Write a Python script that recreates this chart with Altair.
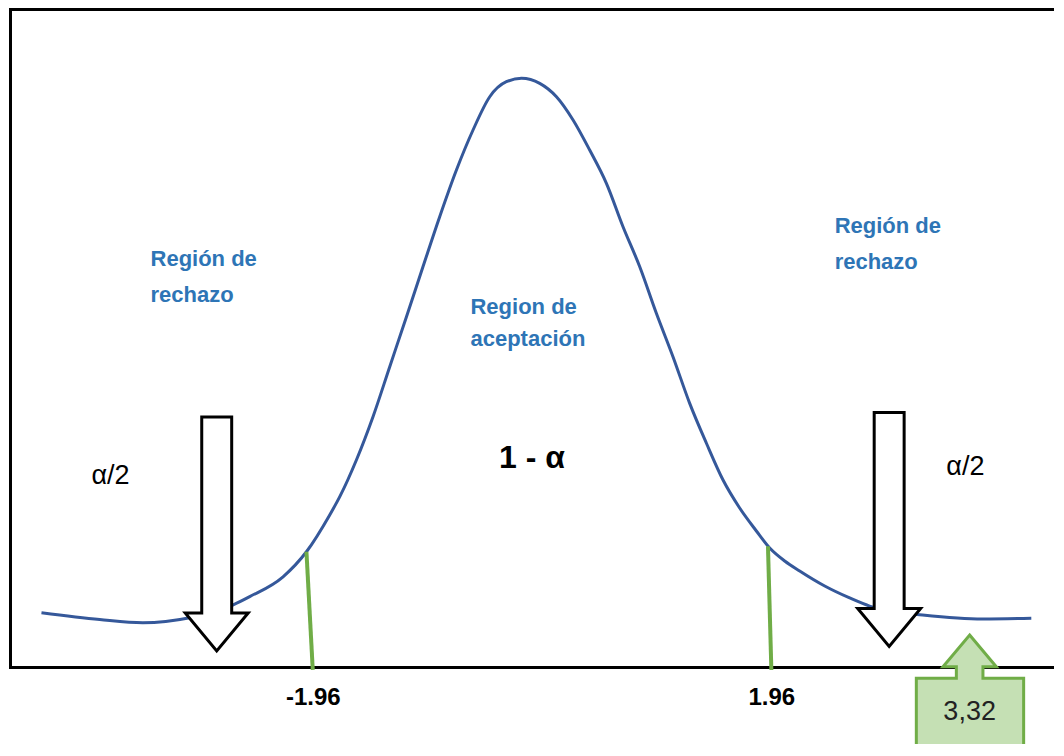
import altair as alt
import pandas as pd

# ---- data ----
curve_z = [-4.279, -3.781, -3.413, -3.012, -2.644, -2.499, -2.214, -2.014, -1.815, -1.729,
           -1.587, -1.445, -1.302, -1.159, -1.018, -0.875, -0.732, -0.590, -0.447, -0.305,
           -0.176, -0.020, 0.123, 0.265, 0.407, 0.550, 0.692, 0.835, 0.977, 1.119,
           1.262, 1.405, 1.547, 1.689, 1.832, 1.946, 2.074, 2.202, 2.416, 2.629,
           2.800, 2.971, 3.253, 3.766, 4.182]
curve_y = [0.0369, 0.0323, 0.0301, 0.0335, 0.0421, 0.0478, 0.0613, 0.0783, 0.1033, 0.1157,
           0.1406, 0.1700, 0.2040, 0.2380, 0.2719, 0.3059, 0.3376, 0.3648, 0.3874, 0.3976,
           0.3999, 0.3965, 0.3874, 0.3716, 0.3512, 0.3286, 0.2991, 0.2719, 0.2403, 0.2108,
           0.1791, 0.1520, 0.1270, 0.1080, 0.0924, 0.0808, 0.0720, 0.0652, 0.0550, 0.0469,
           0.0414, 0.0380, 0.0353, 0.0326, 0.0331]

crit_values = [-1.96, 1.96]
crit_labels = ["-1.96", "1.96"]
crit_top_z = [-2.014, 1.931]
crit_top_y = [0.0783, 0.0820]

reject_labels = ["Región de\nrechazo", "Región de\nrechazo"]
reject_z = [-3.347, 2.501]
reject_y = [0.2724, 0.2946]

accept_labels = ["Region de\naceptación"]
accept_z = [-0.612]
accept_y = [0.2398]

alpha_labels = ["α/2", "α/2"]
alpha_z = [-3.852, 3.456]
alpha_y = [0.1243, 0.1304]

conf_labels = ["1 - α"]
conf_z = [-0.368]
conf_y = [0.135]

arrow_z = [-2.781, 2.967]
arrow_y = [0.0904, 0.0934]

stat_labels = ["3,32"]
stat_z = [3.655]
stat_y = [-0.0241]
stat_text_y = [-0.036]

# ---- tables ----
curve_df = pd.DataFrame({"z": curve_z, "y": curve_y})
crit_df = pd.DataFrame({"z": crit_values, "y": [-0.002, -0.002], "z_top": crit_top_z, "y_top": crit_top_y})
reject_df = pd.DataFrame({"z": reject_z, "y": reject_y, "t": reject_labels})
accept_df = pd.DataFrame({"z": accept_z, "y": accept_y, "t": accept_labels})
alpha_df = pd.DataFrame({"z": alpha_z, "y": alpha_y, "t": alpha_labels})
conf_df = pd.DataFrame({"z": conf_z, "y": conf_y, "t": conf_labels})
arrow_df = pd.DataFrame({"z": arrow_z, "y": arrow_y})
box_df = pd.DataFrame({"z": stat_z, "y": stat_y})
stat_df = pd.DataFrame({"z": stat_z, "y": stat_text_y, "t": stat_labels})

# ---- scales / styles ----
xs = alt.Scale(domain=[-4.548, 4.376], nice=False, zero=False)
ys = alt.Scale(domain=[0, 0.447], nice=False, zero=False)

label_expr = " : ".join(
    f"datum.value == {v} ? '{l}'" for v, l in zip(crit_values[:-1], crit_labels[:-1])
) + f" : '{crit_labels[-1]}'"

bottom_axis = alt.Axis(values=crit_values, labelExpr=label_expr, ticks=False, tickSize=0,
                       grid=False, title=None, domainColor="black", domainWidth=3,
                       domainCap="square", labelFont="Liberation Sans", labelFontWeight="bold",
                       labelFontSize=24, labelColor="black", labelPadding=37,
                       labelBaseline="alphabetic", labelFlush=False, labelOverlap=False)
left_axis = alt.Axis(orient="left", labels=False, ticks=False, grid=False, title=None,
                     domainColor="black", domainWidth=3, domainCap="square")
top_axis = alt.Axis(orient="top", labels=False, ticks=False, grid=False, title=None,
                    domainColor="black", domainWidth=3, domainCap="square")

BLUE_TEXT = "#2e75b6"
CURVE = "#35589a"
GREEN = "#70ad47"
FONT = "Liberation Sans"

arrow_shape = "M-0.128,-1L0.128,-1L0.128,0.675L0.269,0.675L0,1L-0.269,0.675L-0.128,0.675Z"
box_shape = ("M0,-1L0.395,-0.53L0.197,-0.53L0.197,-0.359L0.8,-0.359L0.8,1L-0.79,1"
             "L-0.79,-0.359L-0.197,-0.359L-0.197,-0.53L-0.395,-0.53Z")

curve = alt.Chart(curve_df).mark_line(interpolate="monotone", color=CURVE, strokeWidth=3).encode(
    x=alt.X("z:Q", scale=xs, axis=bottom_axis),
    y=alt.Y("y:Q", scale=ys, axis=left_axis),
)

crit = alt.Chart(crit_df).mark_rule(color=GREEN, strokeWidth=4).encode(
    x=alt.X("z_top:Q", scale=xs, axis=None),
    y=alt.Y("y_top:Q", scale=ys, axis=None),
    x2="z:Q",
    y2="y:Q",
)

arrows = alt.Chart(arrow_df).mark_point(
    shape=arrow_shape, size=54756, filled=True, fill="white", stroke="black",
    strokeWidth=3, opacity=1, fillOpacity=1, strokeOpacity=1,
).encode(
    x=alt.X("z:Q", scale=xs, axis=None),
    y=alt.Y("y:Q", scale=ys, axis=None),
)

box = alt.Chart(box_df).mark_point(
    shape=box_shape, size=18225, filled=True, fill="#c5e0b4", stroke=GREEN,
    strokeWidth=3, opacity=1, fillOpacity=1, strokeOpacity=1,
).encode(
    x=alt.X("z:Q", scale=xs, axis=None),
    y=alt.Y("y:Q", scale=ys, axis=None),
)

reject_text = alt.Chart(reject_df).mark_text(
    align="left", baseline="alphabetic", lineBreak="\n", lineHeight=35.5,
    font=FONT, fontWeight="bold", fontSize=22, color=BLUE_TEXT,
).encode(
    x=alt.X("z:Q", scale=xs, axis=top_axis),
    y=alt.Y("y:Q", scale=ys, axis=None),
    text="t:N",
)

accept_text = alt.Chart(accept_df).mark_text(
    align="left", baseline="alphabetic", lineBreak="\n", lineHeight=32,
    font=FONT, fontWeight="bold", fontSize=22, color=BLUE_TEXT,
).encode(
    x=alt.X("z:Q", scale=xs, axis=None),
    y=alt.Y("y:Q", scale=ys, axis=None),
    text="t:N",
)

alpha_text = alt.Chart(alpha_df).mark_text(
    align="left", baseline="alphabetic", font=FONT, fontSize=27, color="black",
).encode(
    x=alt.X("z:Q", scale=xs, axis=None),
    y=alt.Y("y:Q", scale=ys, axis=None),
    text="t:N",
)

conf_text = alt.Chart(conf_df).mark_text(
    align="left", baseline="alphabetic", font=FONT, fontWeight="bold", fontSize=32, color="black",
).encode(
    x=alt.X("z:Q", scale=xs, axis=None),
    y=alt.Y("y:Q", scale=ys, axis=None),
    text="t:N",
)

stat_text = alt.Chart(stat_df).mark_text(
    align="center", baseline="alphabetic", font=FONT, fontSize=27, color="#222222",
).encode(
    x=alt.X("z:Q", scale=xs, axis=None),
    y=alt.Y("y:Q", scale=ys, axis=None),
    text="t:N",
)

chart = alt.layer(
    curve, crit, arrows, box, reject_text, accept_text, alpha_text, conf_text, stat_text
).resolve_axis(x="independent", y="independent").properties(
    width=1044, height=658,
    padding={"left": 2, "top": 1, "right": 0, "bottom": 77},
    autosize="none",
).configure_view(stroke=None)

chart.save("out.html", embed_options={"renderer": "svg", "actions": False})
